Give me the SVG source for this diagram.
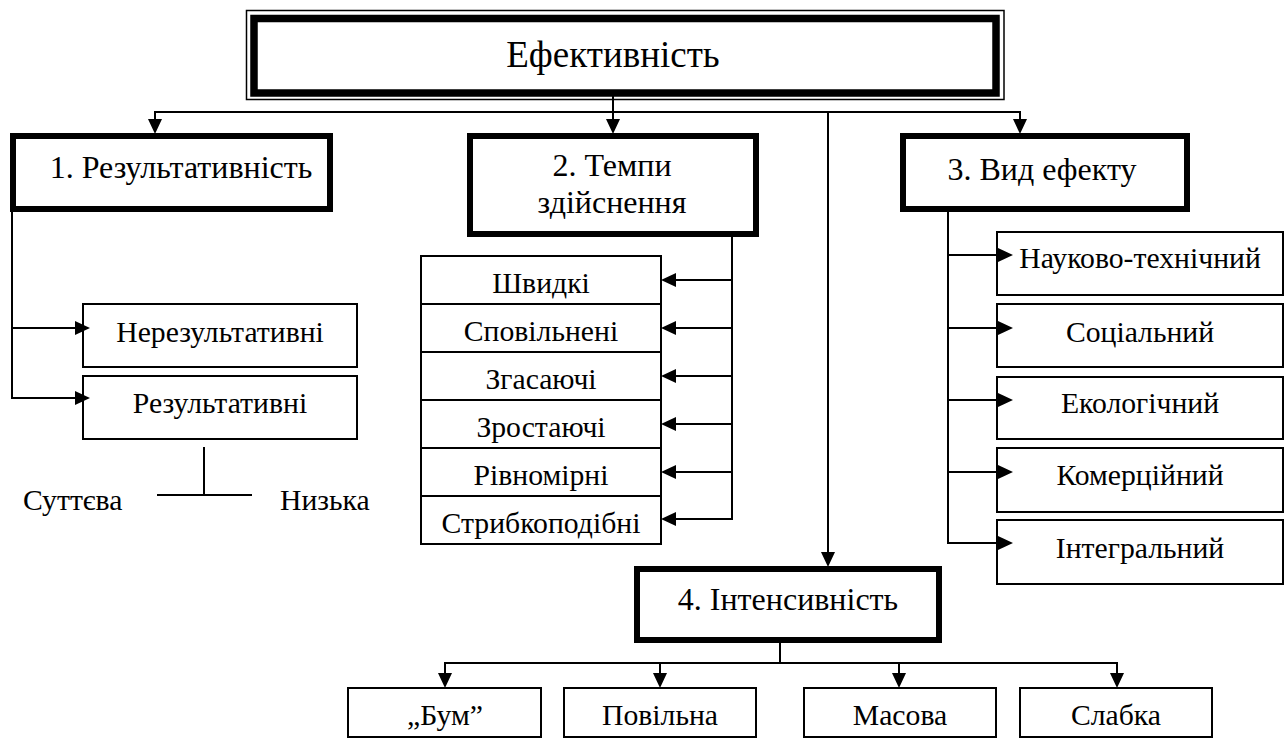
<svg xmlns="http://www.w3.org/2000/svg" xmlns:xlink="http://www.w3.org/1999/xlink" width="1288" height="738" viewBox="0 0 1288 738">
<style>
text{fill:#000;text-anchor:middle}
.t{font-size:37px}
.m{font-size:32px}
.s{font-size:29.7px}
.st{text-anchor:start}
.thick{fill:#fff;stroke:#000;stroke-width:6}
.thin{fill:#fff;stroke:#000;stroke-width:2}
.ln{fill:none;stroke:#000;stroke-width:2}
</style>
<defs>
<path id="ah" d="M-15,-7 L0,0 L-15,7 Z" fill="#000"/>
</defs>
<g id="n-root">
<rect x="246.5" y="10.5" width="757.5" height="89" fill="#fff" stroke="#000" stroke-width="1.5"/>
<rect x="254" y="18.5" width="742" height="74.5" fill="none" stroke="#000" stroke-width="7.5"/>
<text class="t" x="613" y="67" font-family="Liberation Serif">Ефективність</text>
</g>
<g id="n-1">
<rect class="thick" x="13" y="136" width="317" height="73"/>
<text class="m" x="181" y="178" font-family="Liberation Serif">1. Результативність</text>
</g>
<g id="n-1a">
<rect class="thin" x="83" y="304" width="274" height="63"/>
<text class="s" x="220" y="342" font-family="Liberation Serif">Нерезультативні</text>
</g>
<g id="n-1b">
<rect class="thin" x="83" y="376" width="274" height="63"/>
<text class="s" x="220" y="413" font-family="Liberation Serif">Результативні</text>
</g>
<g id="n-1b1"><text class="s st" x="23" y="510" font-family="Liberation Serif">Суттєва</text></g>
<g id="n-1b2"><text class="s st" x="280" y="510" font-family="Liberation Serif">Низька</text></g>
<g id="n-2">
<rect class="thick" x="470" y="136" width="286" height="98"/>
<text class="m" x="612" y="176" font-family="Liberation Serif">2. Темпи</text>
<text class="m" x="612" y="213" font-family="Liberation Serif">здійснення</text>
</g>
<g id="n-2a"><rect class="thin" x="421" y="256" width="240" height="48"/><text class="s" x="541" y="293" font-family="Liberation Serif">Швидкі</text></g>
<g id="n-2b"><rect class="thin" x="421" y="304" width="240" height="48"/><text class="s" x="541" y="341" font-family="Liberation Serif">Сповільнені</text></g>
<g id="n-2c"><rect class="thin" x="421" y="352" width="240" height="48"/><text class="s" x="541" y="389" font-family="Liberation Serif">Згасаючі</text></g>
<g id="n-2d"><rect class="thin" x="421" y="400" width="240" height="48"/><text class="s" x="541" y="437" font-family="Liberation Serif">Зростаючі</text></g>
<g id="n-2e"><rect class="thin" x="421" y="448" width="240" height="48"/><text class="s" x="541" y="485" font-family="Liberation Serif">Рівномірні</text></g>
<g id="n-2f"><rect class="thin" x="421" y="496" width="240" height="48"/><text class="s" x="541" y="533" font-family="Liberation Serif">Стрибкоподібні</text></g>
<g id="n-3">
<rect class="thick" x="903" y="136" width="284" height="73"/>
<text class="m" x="1042" y="180" font-family="Liberation Serif">3. Вид ефекту</text>
</g>
<g id="n-3a"><rect class="thin" x="997" y="232" width="286" height="63"/><text class="s" x="1140" y="268" font-family="Liberation Serif">Науково-технічний</text></g>
<g id="n-3b"><rect class="thin" x="997" y="304" width="286" height="63"/><text class="s" x="1140" y="342" font-family="Liberation Serif">Соціальний</text></g>
<g id="n-3c"><rect class="thin" x="997" y="377" width="286" height="62"/><text class="s" x="1140" y="413" font-family="Liberation Serif">Екологічний</text></g>
<g id="n-3d"><rect class="thin" x="997" y="448" width="286" height="64"/><text class="s" x="1140" y="485" font-family="Liberation Serif">Комерційний</text></g>
<g id="n-3e"><rect class="thin" x="997" y="520" width="286" height="64"/><text class="s" x="1140" y="558" font-family="Liberation Serif">Інтегральний</text></g>
<g id="n-4">
<rect class="thick" x="637" y="569" width="302" height="71"/>
<text class="m" x="788" y="610" font-family="Liberation Serif">4. Інтенсивність</text>
</g>
<g id="n-4a"><rect class="thin" x="348" y="688" width="193" height="49"/><text class="s" x="445" y="725" font-family="Liberation Serif">„Бум”</text></g>
<g id="n-4b"><rect class="thin" x="564" y="688" width="192" height="49"/><text class="s" x="660" y="725" font-family="Liberation Serif">Повільна</text></g>
<g id="n-4c"><rect class="thin" x="804" y="688" width="192" height="49"/><text class="s" x="900" y="725" font-family="Liberation Serif">Масова</text></g>
<g id="n-4d"><rect class="thin" x="1020" y="688" width="192" height="49"/><text class="s" x="1116" y="725" font-family="Liberation Serif">Слабка</text></g>
<g id="connectors">
<line class="ln" x1="155" y1="112" x2="1020" y2="112"/>
<line class="ln" x1="155" y1="111" x2="155" y2="126"/>
<line class="ln" x1="1020" y1="111" x2="1020" y2="126"/>
<line class="ln" x1="613" y1="90" x2="613" y2="126"/>
<line class="ln" x1="828" y1="111" x2="828" y2="559"/>
<line class="ln" x1="12" y1="212" x2="12" y2="399"/>
<line class="ln" x1="11" y1="328" x2="82" y2="328"/>
<line class="ln" x1="11" y1="398" x2="82" y2="398"/>
<line class="ln" x1="204" y1="447" x2="204" y2="495"/>
<line class="ln" x1="157" y1="495" x2="252" y2="495"/>
<line class="ln" x1="732" y1="237" x2="732" y2="520"/>
<line class="ln" x1="733" y1="280" x2="669" y2="280"/>
<line class="ln" x1="733" y1="328" x2="669" y2="328"/>
<line class="ln" x1="733" y1="376" x2="669" y2="376"/>
<line class="ln" x1="733" y1="424" x2="669" y2="424"/>
<line class="ln" x1="733" y1="472" x2="669" y2="472"/>
<line class="ln" x1="733" y1="519" x2="669" y2="519"/>
<line class="ln" x1="948" y1="212" x2="948" y2="544"/>
<line class="ln" x1="947" y1="255" x2="1005" y2="255"/>
<line class="ln" x1="947" y1="328" x2="1005" y2="328"/>
<line class="ln" x1="947" y1="400" x2="1005" y2="400"/>
<line class="ln" x1="947" y1="472" x2="1005" y2="472"/>
<line class="ln" x1="947" y1="543" x2="1005" y2="543"/>
<line class="ln" x1="780" y1="643" x2="780" y2="663"/>
<line class="ln" x1="445" y1="663" x2="1117" y2="663"/>
<line class="ln" x1="445" y1="662" x2="445" y2="680"/>
<line class="ln" x1="660" y1="662" x2="660" y2="680"/>
<line class="ln" x1="899" y1="662" x2="899" y2="680"/>
<line class="ln" x1="1117" y1="662" x2="1117" y2="680"/>
<use xlink:href="#ah" href="#ah" transform="translate(155,134) rotate(90)"/>
<use xlink:href="#ah" href="#ah" transform="translate(1020,134) rotate(90)"/>
<use xlink:href="#ah" href="#ah" transform="translate(613,134) rotate(90)"/>
<use xlink:href="#ah" href="#ah" transform="translate(828,567) rotate(90)"/>
<use xlink:href="#ah" href="#ah" transform="translate(90,328)"/>
<use xlink:href="#ah" href="#ah" transform="translate(90,398)"/>
<use xlink:href="#ah" href="#ah" transform="translate(661,280) rotate(180)"/>
<use xlink:href="#ah" href="#ah" transform="translate(661,328) rotate(180)"/>
<use xlink:href="#ah" href="#ah" transform="translate(661,376) rotate(180)"/>
<use xlink:href="#ah" href="#ah" transform="translate(661,424) rotate(180)"/>
<use xlink:href="#ah" href="#ah" transform="translate(661,472) rotate(180)"/>
<use xlink:href="#ah" href="#ah" transform="translate(661,519) rotate(180)"/>
<use xlink:href="#ah" href="#ah" transform="translate(1013,255)"/>
<use xlink:href="#ah" href="#ah" transform="translate(1013,328)"/>
<use xlink:href="#ah" href="#ah" transform="translate(1013,400)"/>
<use xlink:href="#ah" href="#ah" transform="translate(1013,472)"/>
<use xlink:href="#ah" href="#ah" transform="translate(1013,543)"/>
<use xlink:href="#ah" href="#ah" transform="translate(445,688) rotate(90)"/>
<use xlink:href="#ah" href="#ah" transform="translate(660,688) rotate(90)"/>
<use xlink:href="#ah" href="#ah" transform="translate(899,688) rotate(90)"/>
<use xlink:href="#ah" href="#ah" transform="translate(1117,688) rotate(90)"/>
</g>
</svg>
